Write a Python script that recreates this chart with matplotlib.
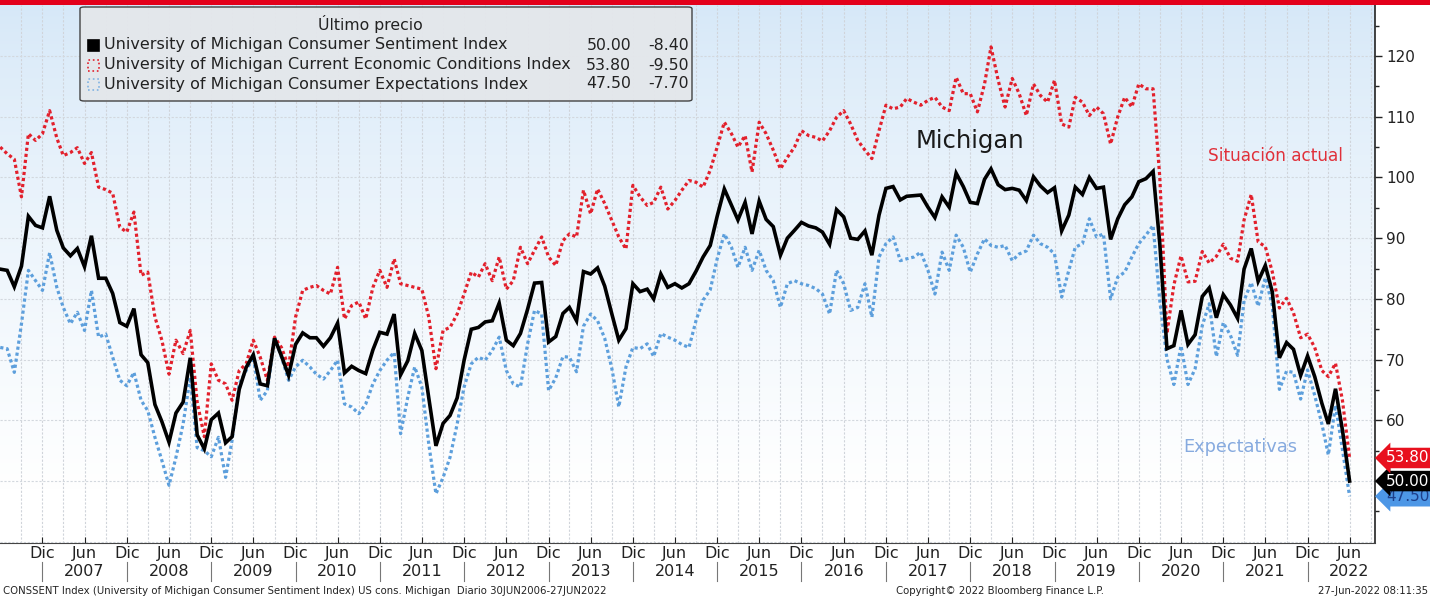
import numpy as np
import pandas as pd
import matplotlib
matplotlib.use("Agg")
import matplotlib.pyplot as plt
import matplotlib.dates as mdates
import matplotlib.transforms as mtransforms
from matplotlib.patches import FancyBboxPatch, Rectangle

plt.rcParams['font.family'] = ['DejaVu Sans']

# ---------------- data (monthly, Jun 2006 - Jun 2022) ----------------
start_month = "2006-06-01"

sentiment = [
    84.9, 84.7, 82.0, 85.4, 93.6, 92.1, 91.7,
    96.9, 91.3, 88.4, 87.1, 88.3, 85.3, 90.4, 83.4, 83.4, 80.9, 76.1, 75.5,
    78.4, 70.8, 69.5, 62.6, 59.8, 56.4, 61.2, 63.0, 70.3, 57.6, 55.3, 60.1,
    61.2, 56.3, 57.3, 65.1, 68.7, 70.8, 66.0, 65.7, 73.5, 70.6, 67.4, 72.5,
    74.4, 73.6, 73.6, 72.2, 73.6, 76.0, 67.8, 68.9, 68.2, 67.7, 71.6, 74.5,
    74.2, 77.5, 67.5, 69.8, 74.3, 71.5, 63.7, 55.8, 59.5, 60.8, 63.7, 69.9,
    75.0, 75.3, 76.2, 76.4, 79.3, 73.2, 72.3, 74.3, 78.3, 82.6, 82.7, 72.9,
    73.8, 77.6, 78.6, 76.4, 84.5, 84.1, 85.1, 82.1, 77.5, 73.2, 75.1, 82.5,
    81.2, 81.6, 80.0, 84.1, 81.9, 82.5, 81.8, 82.5, 84.6, 86.9, 88.8, 93.6,
    98.1, 95.4, 93.0, 95.9, 90.7, 96.1, 93.1, 91.9, 87.2, 90.0, 91.3, 92.6,
    92.0, 91.7, 91.0, 89.0, 94.7, 93.5, 90.0, 89.8, 91.2, 87.2, 93.8, 98.2,
    98.5, 96.3, 96.9, 97.0, 97.1, 95.1, 93.4, 96.8, 95.1, 100.7, 98.5, 95.9,
    95.7, 99.7, 101.4, 98.8, 98.0, 98.2, 97.9, 96.2, 100.1, 98.6, 97.5, 98.3,
    91.2, 93.8, 98.4, 97.2, 100.0, 98.2, 98.4, 89.8, 93.2, 95.5, 96.8, 99.3,
    99.8, 101.0, 89.1, 71.8, 72.3, 78.1, 72.5, 74.1, 80.4, 81.8, 76.9, 80.7,
    79.0, 76.8, 84.9, 88.3, 82.9, 85.5, 81.2, 70.3, 72.8, 71.7, 67.4, 70.6,
    67.2, 62.8, 59.4, 65.2, 58.4, 50.0,
]

current = [
    105.0, 103.9, 103.0, 96.8, 107.2, 106.1, 107.2,
    111.0, 106.5, 103.6, 104.1, 104.9, 102.3, 104.1, 98.4, 98.0, 97.4, 91.8, 91.0,
    94.3, 83.9, 84.4, 77.0, 73.2, 67.6, 73.2, 71.0, 74.8, 63.0, 57.3, 69.3,
    66.6, 66.0, 63.3, 68.2, 69.3, 73.2, 70.4, 66.6, 73.7, 72.0, 68.8, 77.0,
    81.4, 81.9, 82.2, 81.4, 80.8, 85.2, 76.7, 78.9, 79.5, 76.7, 81.9, 84.7,
    81.9, 86.6, 82.5, 82.2, 81.9, 81.6, 77.0, 68.5, 74.8, 75.3, 77.5, 80.8,
    84.4, 83.6, 85.8, 83.0, 86.9, 81.6, 83.0, 88.5, 85.8, 88.0, 90.2, 86.9,
    85.5, 89.6, 90.7, 90.2, 97.9, 94.0, 98.1, 95.7, 92.9, 90.2, 88.2, 98.7,
    96.8, 95.4, 95.9, 98.4, 94.8, 96.2, 97.9, 99.5, 99.2, 98.4, 101.2, 105.0,
    109.1, 107.2, 105.0, 106.9, 100.9, 109.1, 107.2, 104.5, 101.4, 103.3, 105.0, 107.7,
    106.9, 106.6, 106.0, 107.7, 109.9, 111.0, 108.8, 106.1, 104.5, 103.1, 107.7, 111.9,
    111.3, 111.6, 113.0, 112.4, 111.9, 112.7, 113.2, 111.6, 111.0, 116.5, 113.8, 113.8,
    110.8, 115.4, 121.5, 116.0, 111.6, 116.3, 113.8, 110.2, 115.4, 113.5, 112.4, 116.0,
    108.8, 108.3, 113.2, 112.4, 110.2, 111.6, 110.5, 105.5, 110.0, 113.2, 111.6, 115.4,
    114.6, 114.6, 100.0, 74.3, 82.3, 87.1, 82.8, 82.9, 87.8, 85.9, 87.0, 89.0,
    86.7, 86.2, 93.0, 97.2, 89.4, 88.6, 84.5, 78.5, 80.1, 77.7, 73.6, 74.2,
    72.0, 68.2, 67.2, 69.4, 63.3, 53.8,
]

expectations = [
    72.0, 71.8, 67.9, 75.9, 84.7, 83.0, 81.4,
    87.6, 81.9, 78.6, 75.9, 77.8, 74.8, 81.4, 73.7, 74.2, 70.4, 66.6, 65.7,
    67.9, 63.3, 61.6, 57.2, 53.4, 49.3, 53.9, 59.4, 67.1, 55.5, 55.0, 54.0,
    57.2, 50.6, 56.7, 66.0, 68.2, 70.4, 63.3, 64.9, 73.7, 70.4, 66.6, 68.8,
    69.9, 68.8, 67.6, 66.8, 68.2, 69.9, 62.7, 62.2, 61.1, 62.7, 66.0, 68.2,
    69.9, 71.2, 57.8, 63.8, 68.8, 65.5, 56.1, 47.9, 50.6, 53.9, 59.4, 65.5,
    69.3, 70.4, 69.9, 71.5, 73.7, 68.2, 66.0, 65.5, 72.6, 78.1, 77.5, 64.9,
    67.0, 70.5, 70.4, 68.0, 75.5, 77.5, 76.4, 73.5, 68.5, 62.2, 68.8, 72.0,
    71.8, 72.6, 70.5, 74.3, 73.7, 73.2, 72.5, 72.0, 76.5, 79.8, 81.5, 86.6,
    90.7, 88.5, 85.2, 88.5, 84.7, 88.0, 84.7, 83.0, 78.6, 82.5, 83.0, 82.5,
    82.2, 81.7, 80.8, 77.5, 84.7, 82.5, 78.1, 78.6, 82.5, 77.0, 86.9, 89.1,
    90.2, 86.3, 86.6, 86.9, 87.7, 84.7, 80.8, 87.7, 84.7, 90.5, 88.5, 84.4,
    87.4, 89.9, 88.8, 88.5, 88.8, 86.3, 87.4, 87.9, 90.5, 89.1, 88.5, 87.4,
    80.3, 84.7, 88.5, 89.1, 93.2, 90.2, 90.7, 80.0, 83.6, 84.4, 86.9, 89.1,
    90.5, 92.1, 79.7, 70.1, 65.9, 72.3, 65.9, 68.5, 75.6, 79.2, 70.5, 76.1,
    74.0, 70.7, 79.7, 82.7, 78.8, 83.5, 79.0, 65.1, 68.1, 67.9, 63.5, 68.3,
    64.1, 59.4, 54.3, 62.5, 55.2, 47.5,
]

legend_names = [
    "University of Michigan Consumer Sentiment Index",
    "University of Michigan Current Economic Conditions Index",
    "University of Michigan Consumer Expectations Index",
]
last_values = ["50.00", "53.80", "47.50"]
last_changes = ["-8.40", "-9.50", "-7.70"]
years = list(range(2007, 2023))
y_ticks = [50, 60, 70, 80, 90, 100, 110, 120]

dates = pd.date_range(start_month, periods=len(sentiment), freq="MS")

# ---------------- figure ----------------
W, H = 1430, 597
fig = plt.figure(figsize=(W / 100, H / 100), dpi=100)
fig.patch.set_facecolor("white")


def fx(x):
    return x / W


def fy(y):
    return 1 - y / H


ax_left, ax_right, ax_top, ax_bot = 0, 1375, 5, 543
ax = fig.add_axes([fx(ax_left), fy(ax_bot), fx(ax_right - ax_left), (ax_bot - ax_top) / H])

x0 = mdates.date2num(pd.Timestamp(start_month))
ax.set_xlim(x0 - 1, x0 + 195.6 * 30.44)
ax.set_ylim(39.8, 128.4)

# gradient background
grad = np.linspace(0, 1, 256).reshape(-1, 1)
top_c = np.array([214, 232, 248]) / 255.0
bot_c = np.array([255, 255, 255]) / 255.0
t = np.clip(grad / 0.9, 0, 1) ** 0.8
img = top_c * (1 - t)[..., None] + bot_c * t[..., None]
img = img.reshape(256, 1, 3)
ax.imshow(img, extent=[0, 1, 0, 1], transform=ax.transAxes, aspect="auto",
          origin="upper", zorder=0)

# grid
for d in pd.date_range("2006-09-01", "2022-09-01", freq="3MS"):
    ax.axvline(d, color="#d0d4da", lw=0.8, ls=(0, (2, 1.5)), zorder=1)
for v in range(40, 130, 10):
    ax.axhline(v, color="#d3d8de", lw=0.8, ls=(0, (2, 1.5)), zorder=1)

# lines
ax.plot(dates, expectations, color="#5d9fdc", lw=2.3, ls=(0, (1, 0.9)), zorder=3)
ax.plot(dates, current, color="#e2202c", lw=2.3, ls=(0, (1, 0.9)), zorder=3)
ax.plot(dates, sentiment, color="#000000", lw=2.6, zorder=4, solid_joinstyle="miter")

# spines / ticks
for s in ["top", "left"]:
    ax.spines[s].set_visible(False)
ax.spines["right"].set_color("#222222")
ax.spines["bottom"].set_color("#444444")
ax.spines["right"].set_linewidth(1.2)
ax.spines["bottom"].set_linewidth(0.8)
ax.yaxis.tick_right()
ax.set_yticks(y_ticks)
ax.set_yticklabels([str(v) for v in y_ticks])
ax.set_yticks(np.arange(45, 130, 10), minor=True)
ax.tick_params(axis="y", which="major", direction="out", length=5, width=1,
               labelsize=11, colors="#222222", pad=3)
ax.tick_params(axis="y", which="minor", direction="out", length=3, width=1, colors="#222222")

tick_dates = pd.date_range("2006-12-01", "2022-06-01", freq="6MS")
ax.set_xticks(tick_dates)
ax.set_xticklabels(["Dic" if d.month == 12 else "Jun" for d in tick_dates])
ax.tick_params(axis="x", which="major", direction="in", length=4, width=0.8,
               labelsize=11.5, colors="#222222", pad=2)

# year labels and separators
trans = mtransforms.blended_transform_factory(ax.transData, fig.transFigure)
for yr in years:
    ax.text(pd.Timestamp(f"{yr}-06-01"), fy(571), str(yr), transform=trans,
            ha="center", va="center", fontsize=11.5, color="#222222", clip_on=False)
for yr in range(2006, 2022):
    d = pd.Timestamp(f"{yr}-12-01")
    ax.plot([d, d], [fy(562), fy(581)], transform=trans, color="#777777", lw=0.8,
            clip_on=False)

# text annotations
fig.text(fx(970), fy(141), "Michigan", fontsize=17.5, color="#1a1a1a", ha="center", va="center")
fig.text(fx(1276), fy(156), "Situación actual", fontsize=12.2, color="#e0303a", ha="center", va="center")
fig.text(fx(1240), fy(447), "Expectativas", fontsize=12.8, color="#86aadf", ha="center", va="center")

# value tags on right axis (they overlap like in the reference)
ytrans = mtransforms.blended_transform_factory(fig.transFigure, ax.transData)
tags = [(float(last_values[2]), last_values[2], "#4d97e6", "#1d3f8a"),
        (float(last_values[0]), last_values[0], "#000000", "white"),
        (float(last_values[1]), last_values[1], "#e8101e", "white")]
for val, txt, fc, tc in tags:
    ax.text(fx(1386), val, txt, transform=ytrans, ha="left", va="center", fontsize=11,
            color=tc, clip_on=False, zorder=10,
            bbox=dict(boxstyle="larrow,pad=0.18", fc=fc, ec="none"))

# legend box
lb = FancyBboxPatch((fx(80), fy(101)), fx(612), (101 - 7) / H,
                    boxstyle="round,pad=0,rounding_size=0.003",
                    transform=fig.transFigure, fc="#e4e7eb", ec="#3a3a3a", lw=1.0,
                    alpha=0.95, zorder=20)
fig.add_artist(lb)
fig.text(fx(370), fy(24), "Último precio", fontsize=11.3, color="#222222",
         ha="center", va="center", zorder=21)
row_y = [45, 65, 84]
mk = [("#000000", "#000000", "-"), ("none", "#e2202c", ":"), ("none", "#7fb2e2", ":")]
for i in range(3):
    fc, ec, ls = mk[i]
    sq = Rectangle((fx(88), fy(row_y[i] + 6)), fx(11), 11 / H, transform=fig.transFigure,
                   fc=fc, ec=ec, lw=1.2, ls=ls, zorder=22)
    fig.add_artist(sq)
    fig.text(fx(104), fy(row_y[i]), legend_names[i], fontsize=11.5, color="#222222",
             ha="left", va="center", zorder=22)
    fig.text(fx(631), fy(row_y[i]), last_values[i], fontsize=11.3, color="#222222",
             ha="right", va="center", zorder=22)
    fig.text(fx(689), fy(row_y[i]), last_changes[i], fontsize=11.3, color="#222222",
             ha="right", va="center", zorder=22)

# top red bar
fig.add_artist(Rectangle((0, fy(5)), 1, 5 / H, transform=fig.transFigure,
                         fc="#e3001b", ec="none", zorder=30))

# footer
fig.text(fx(3), fy(591), "CONSSENT Index (University of Michigan Consumer Sentiment Index) US cons. Michigan  Diario 30JUN2006-27JUN2022",
         fontsize=7.3, color="#222222", ha="left", va="center")
fig.text(fx(1000), fy(591), "Copyright© 2022 Bloomberg Finance L.P.", fontsize=7.3,
         color="#222222", ha="center", va="center")
fig.text(fx(1428), fy(591), "27-Jun-2022 08:11:35", fontsize=7.3, color="#222222",
         ha="right", va="center")

fig.savefig("out.png", dpi=100)
